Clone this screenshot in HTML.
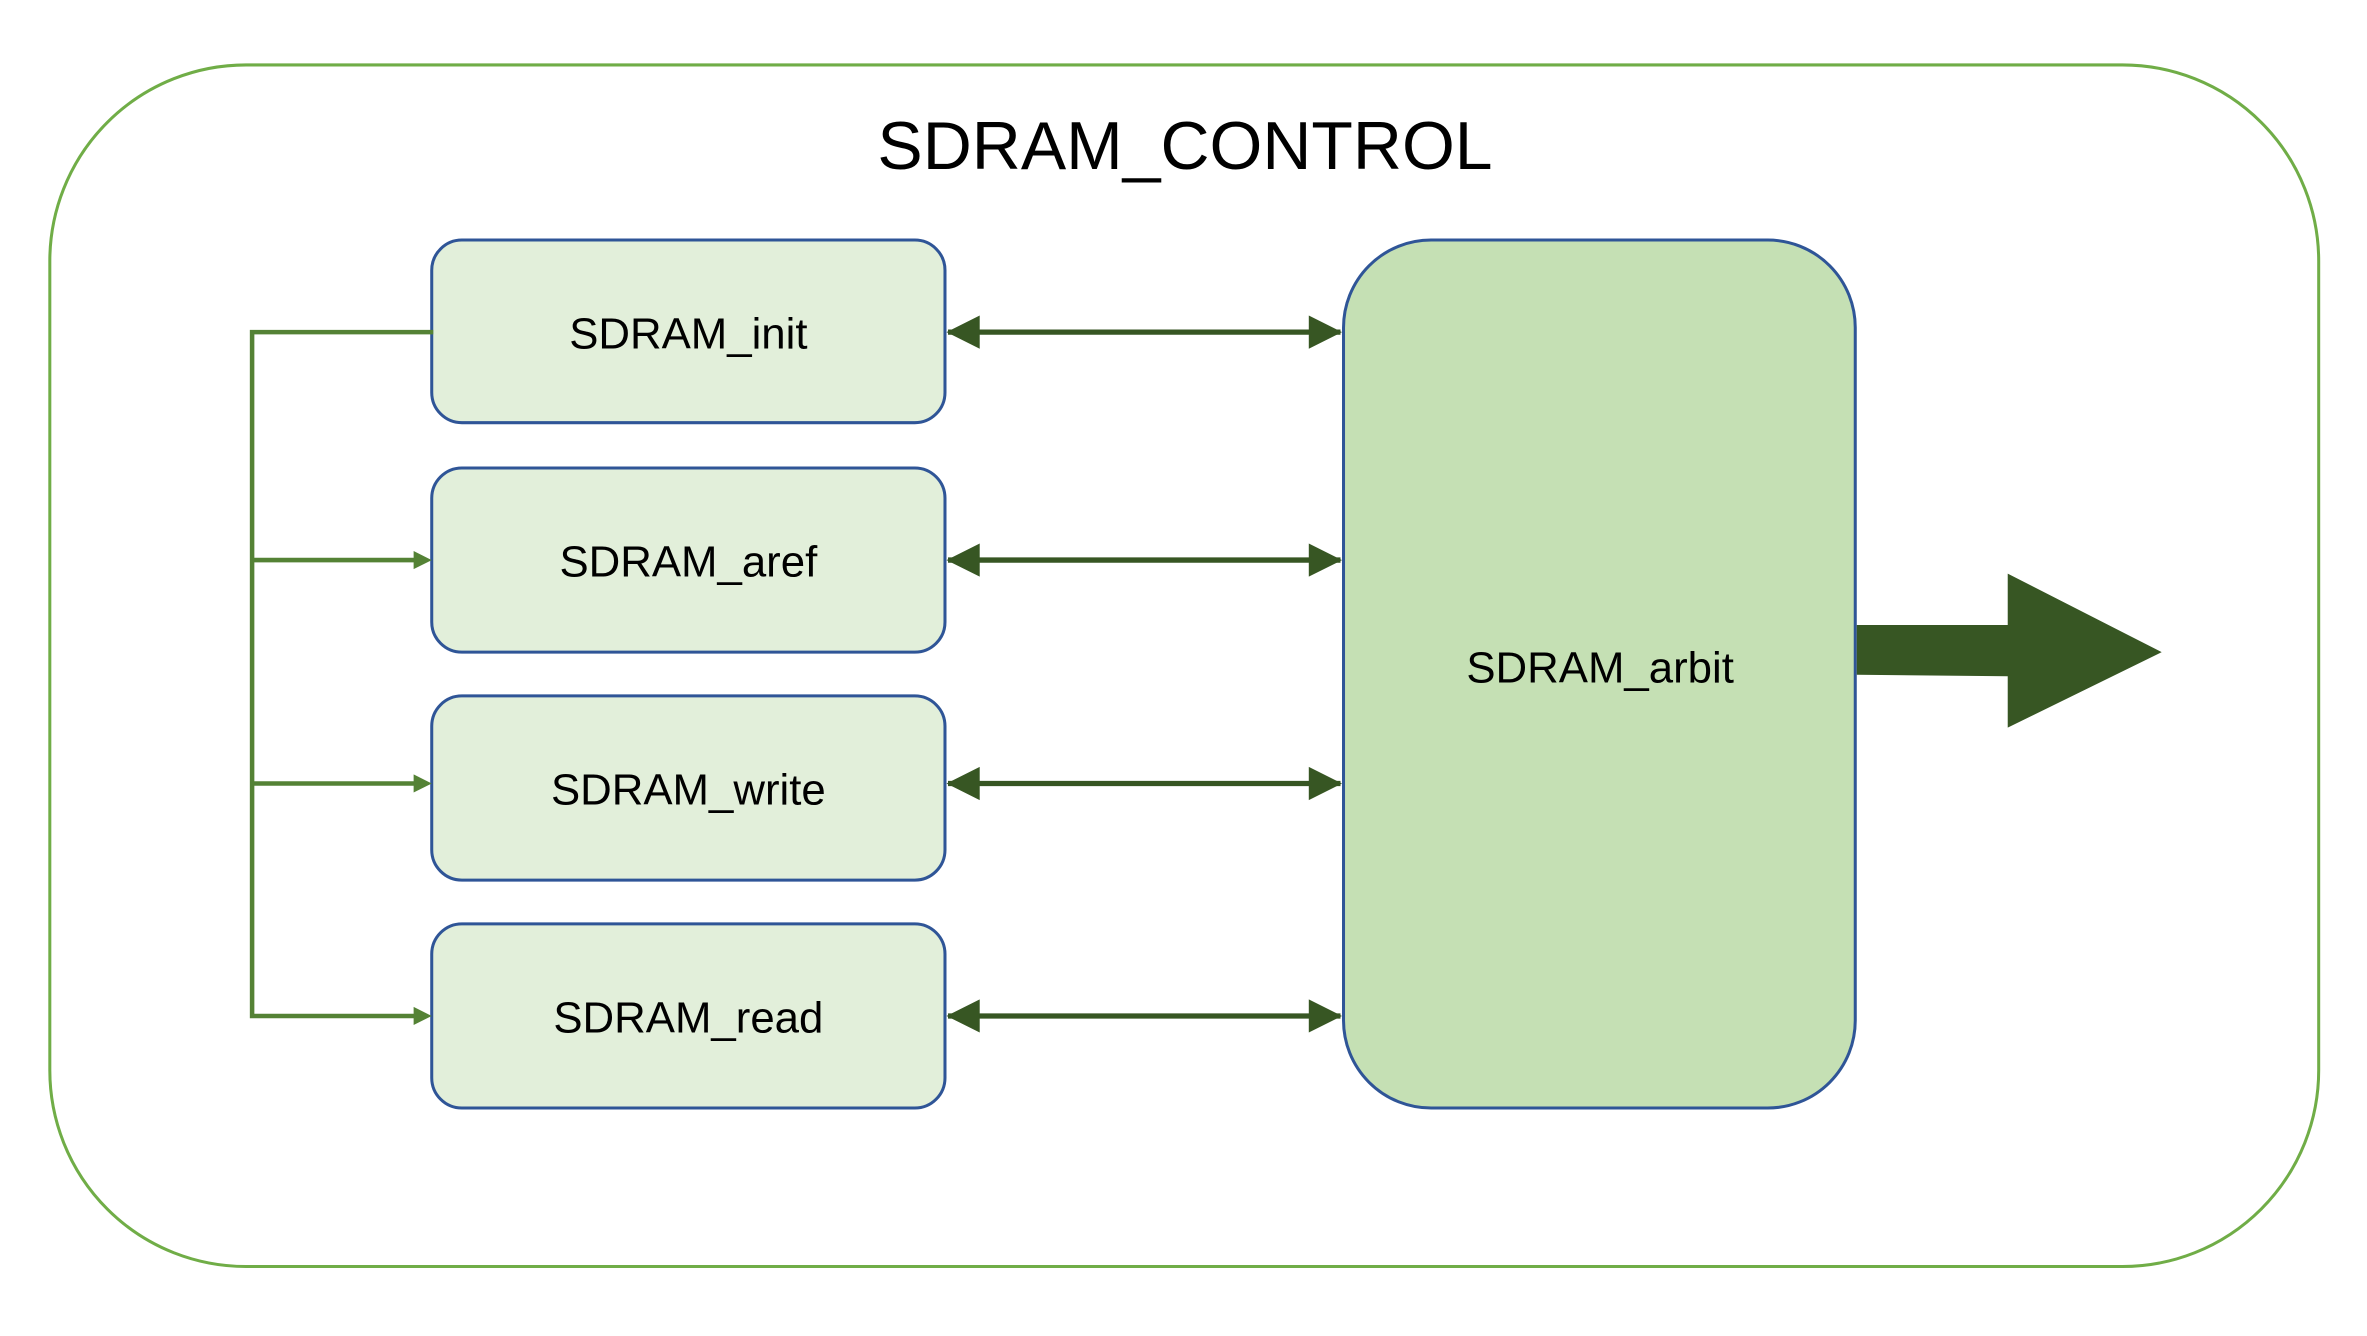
<!DOCTYPE html>
<html><head><meta charset="utf-8"><style>
html,body{margin:0;padding:0;background:#fff;}
svg{display:block;}
text{font-family:"Liberation Sans",sans-serif;fill:#000;}
</style></head><body>
<svg width="2367" height="1336" viewBox="0 0 1568 885" xmlns="http://www.w3.org/2000/svg">
<defs>
<marker id="ad" markerWidth="10" markerHeight="10" refX="9" refY="5" orient="auto-start-reverse" markerUnits="userSpaceOnUse" viewBox="0 0 10 10">
<path d="M0,0 L10,5 L0,10 z" fill="#375623"/></marker>
</defs>
<rect x="0" y="0" width="1568" height="885" fill="#fff"/>
<rect x="33" y="43" width="1503" height="796" rx="130" ry="130" fill="#fff" stroke="#70ad47" stroke-width="2"/>
<text x="785" y="112" font-size="45" text-anchor="middle">SDRAM_CONTROL</text>

<g fill="#e2efda" stroke="#2f5597" stroke-width="2">
<rect x="286" y="159" width="340" height="121" rx="20"/>
<rect x="286" y="310" width="340" height="122" rx="20"/>
<rect x="286" y="461" width="340" height="122" rx="20"/>
<rect x="286" y="612" width="340" height="122" rx="20"/>
</g>
<rect x="890" y="159" width="339" height="575" rx="58" fill="#c5e0b4" stroke="#2f5597" stroke-width="2"/>

<g font-size="29" text-anchor="middle">
<text x="456" y="231">SDRAM_init</text>
<text x="456" y="382">SDRAM_aref</text>
<text x="456" y="533">SDRAM_write</text>
<text x="456" y="684">SDRAM_read</text>
<text x="1060" y="452">SDRAM_arbit</text>
</g>

<g stroke="#375623" stroke-width="3.5">
<line x1="628" y1="220" x2="888" y2="220"/>
<line x1="628" y1="371" x2="888" y2="371"/>
<line x1="628" y1="519" x2="888" y2="519"/>
<line x1="628" y1="673" x2="888" y2="673"/>
</g>
<g fill="#375623">
<path d="M627,220 l22,-11 v22z M889,220 l-22,-11 v22z"/>
<path d="M627,371 l22,-11 v22z M889,371 l-22,-11 v22z"/>
<path d="M627,519 l22,-11 v22z M889,519 l-22,-11 v22z"/>
<path d="M627,673 l22,-11 v22z M889,673 l-22,-11 v22z"/>
</g>

<g stroke="#548235" stroke-width="3" fill="none">
<polyline points="287,220 167,220 167,673 278,673"/>
<line x1="167" y1="371" x2="278" y2="371"/>
<line x1="167" y1="519" x2="278" y2="519"/>
</g>
<g fill="#548235">
<path d="M286,371 l-12,-6 v12z"/>
<path d="M286,519 l-12,-6 v12z"/>
<path d="M286,673 l-12,-6 v12z"/>
</g>

<path d="M1230,414 L1330,414 L1330,380 L1432,432 L1330,482 L1330,448 L1230,447 z" fill="#375623"/>
</svg>
</body></html>
